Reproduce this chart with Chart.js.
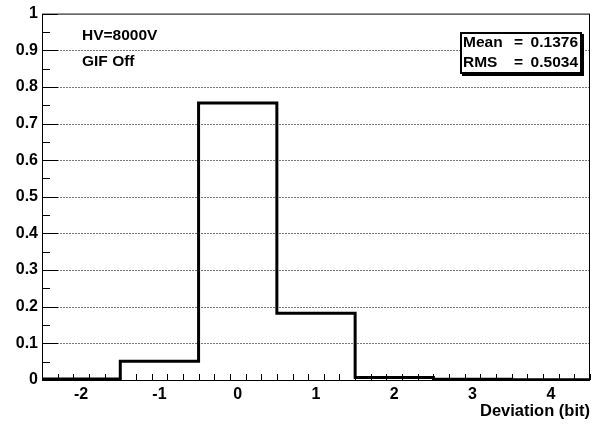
<!DOCTYPE html>
<html>
<head>
<meta charset="utf-8">
<script src="https://cdn.jsdelivr.net/npm/chart.js@4/dist/chart.umd.min.js"></script>
<style>
  html, body { margin: 0; padding: 0; background: #fff; }
  #wrap { width: 598px; height: 424px; position: relative; }
</style>
</head>
<body>
<div id="wrap"><canvas id="histChart"></canvas></div>
<script>
// bin centres and fraction of entries per bin
const binCenters = [-2, -1, 0, 1, 2, 3, 4];
const binValues = [0.003, 0.051, 0.756, 0.182, 0.007, 0.002, 0.001];
const binWidth = 1;
const xTicks = [-2, -1, 0, 1, 2, 3, 4];
const yTicks = [0, 0.1, 0.2, 0.3, 0.4, 0.5, 0.6, 0.7, 0.8, 0.9, 1];
const infoLines = ['HV=8000V', 'GIF Off'];
const statNames = ['Mean', 'RMS'];
const statValues = ['0.1376', '0.5034'];

const FAMILY = '"Liberation Sans", Arial, Helvetica, sans-serif';
const FONT = 'bold 15.5px ' + FAMILY;

// step outline: left edge of each bin, plus the right edge of the last one
const outline = binCenters.map((c, i) => ({ x: c - binWidth / 2, y: binValues[i] }));
outline.push({ x: binCenters[binCenters.length - 1] + binWidth / 2, y: binValues[binValues.length - 1] });

// ROOT-like frame, inward ticks, dotted grid and text boxes
const rootFrame = {
  id: 'rootFrame',
  beforeDatasetsDraw(chart) {
    const { ctx, chartArea: a, scales: { y } } = chart;
    ctx.save();
    ctx.strokeStyle = '#777';
    ctx.lineWidth = 1;
    ctx.setLineDash([2, 1]);
    yTicks.slice(1, -1).forEach(v => {
      const py = Math.round(y.getPixelForValue(v)) + 0.5;
      ctx.beginPath();
      ctx.moveTo(a.left, py);
      ctx.lineTo(a.right, py);
      ctx.stroke();
    });
    ctx.restore();
  },
  afterDatasetsDraw(chart) {
    const { ctx, chartArea: a, scales: { x, y } } = chart;
    ctx.save();
    ctx.strokeStyle = '#000';
    ctx.lineWidth = 1;
    ctx.setLineDash([]);
    ctx.strokeRect(a.left + 0.5, a.top + 0.5, a.right - a.left - 1, a.bottom - a.top);

    // y ticks: major every 0.1, minor every 0.05
    for (let i = 0; i <= 20; i++) {
      const py = Math.round(y.getPixelForValue(i * 0.05)) + 0.5;
      const len = i % 2 === 0 ? 16 : 8;
      ctx.beginPath();
      ctx.moveTo(a.left, py);
      ctx.lineTo(a.left + len, py);
      ctx.stroke();
    }
    // x ticks: major at integers, minor every 0.2
    for (let i = 0; i <= 35; i++) {
      const v = -2.5 + i * 0.2;
      const px = Math.round(x.getPixelForValue(v)) + 0.5;
      const major = Math.abs(v - Math.round(v)) < 1e-6;
      const len = major ? 11 : 6;
      ctx.beginPath();
      ctx.moveTo(px, a.bottom);
      ctx.lineTo(px, a.bottom - len);
      ctx.stroke();
    }

    ctx.font = FONT;
    ctx.fillStyle = '#000';
    ctx.textBaseline = 'middle';
    ctx.textAlign = 'left';
    ctx.fillText(infoLines[0], 82, 36);
    ctx.fillText(infoLines[1], 82, 62);

    // stats box with shadow
    const bx = 460, by = 32, bw = 122, bh = 42;
    ctx.fillStyle = '#000';
    ctx.fillRect(bx + 2, by + 2, bw, bh);
    ctx.fillStyle = '#fff';
    ctx.fillRect(bx, by, bw, bh);
    ctx.lineWidth = 2;
    ctx.strokeRect(bx + 1, by + 1, bw - 2, bh - 2);
    ctx.fillStyle = '#000';
    statNames.forEach((n, i) => {
      const ty = by + 11 + i * 20;
      ctx.textAlign = 'left';
      ctx.fillText(n, bx + 3, ty);
      ctx.fillText('=', bx + 54, ty);
      ctx.textAlign = 'right';
      ctx.fillText(statValues[i], bx + bw - 4, ty);
    });
    ctx.restore();
  }
};

const tickFont = { family: FAMILY, size: 16, weight: 'bold' };

const ctx = document.getElementById('histChart').getContext('2d');
const histChart = new Chart(ctx, {
  type: 'line',
  data: {
    datasets: [{
      data: outline,
      stepped: 'before',
      borderColor: '#000',
      borderWidth: 3,
      pointRadius: 0,
      fill: false
    }]
  },
  options: {
    responsive: true,
    maintainAspectRatio: false,
    animation: false,
    layout: { padding: { top: 7, right: 8, left: 0, bottom: 0 } },
    plugins: { legend: { display: false }, tooltip: { enabled: false } },
    scales: {
      x: {
        type: 'linear',
        min: -2.5,
        max: 4.5,
        afterBuildTicks(scale) { scale.ticks = xTicks.map(v => ({ value: v })); },
        afterFit(scale) { scale.height = 44; },
        grid: { display: false, drawTicks: false, tickLength: 0 },
        border: { display: false },
        ticks: { color: '#000', font: tickFont, padding: 5, maxRotation: 0 },
        title: {
          display: true,
          text: 'Deviation (bit)',
          align: 'end',
          color: '#000',
          font: { family: FAMILY, size: 16.5, weight: 'bold' },
          padding: { top: 0, bottom: 3 }
        }
      },
      y: {
        min: 0,
        max: 1,
        afterBuildTicks(scale) { scale.ticks = yTicks.map(v => ({ value: v })); },
        afterFit(scale) { scale.width = 42; },
        grid: { display: false, drawTicks: false, tickLength: 0 },
        border: { display: false },
        ticks: {
          color: '#000',
          font: tickFont,
          padding: 4,
          callback: v => String(Math.round(v * 10) / 10)
        }
      }
    }
  },
  plugins: [rootFrame]
});
</script>
</body>
</html>
